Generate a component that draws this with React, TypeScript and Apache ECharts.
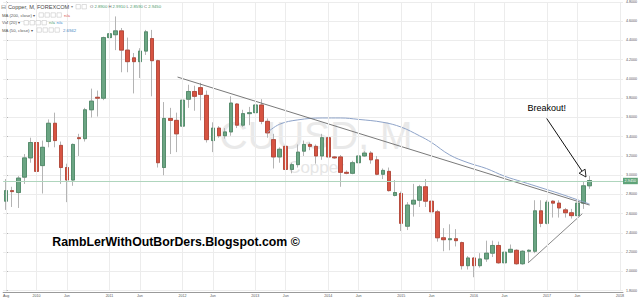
import React, { useEffect, useRef } from 'react';
import * as echarts from 'echarts';

// Monthly candles, Aug 2009 .. Aug 2017
const opens = [2.73, 2.84, 2.82, 2.98, 3.18, 3.34, 3.10, 3.35, 3.54, 3.31, 3.08, 2.95, 3.39, 3.38, 3.68, 3.81, 3.80,
  4.43, 4.46, 4.50, 4.30, 4.22, 4.18, 4.29, 4.42, 4.19, 3.08, 3.59, 3.57,
  3.51, 3.79, 3.87, 3.91, 3.83, 3.36, 3.49, 3.41, 3.45, 3.74, 3.52, 3.64,
  3.65, 3.73, 3.56, 3.37, 3.19, 3.30, 3.06, 3.11, 3.25, 3.32, 3.30, 3.20,
  3.39, 3.19, 3.19, 3.03, 3.02, 3.13, 3.20, 3.23, 3.16, 3.01, 3.04, 2.79,
  2.81, 2.47, 2.70, 2.74, 2.88, 2.73, 2.62, 2.35, 2.33, 2.34, 2.30, 2.06,
  2.14, 2.06, 2.13, 2.19, 2.27, 2.09, 2.20, 2.22, 2.08, 2.21, 2.21, 2.63,
  2.50, 2.73, 2.71, 2.64, 2.61, 2.58, 2.71, 2.89];
const highs = [2.96, 2.88, 2.99, 3.22, 3.39, 3.55, 3.36, 3.58, 3.65, 3.35, 3.12, 3.33, 3.43, 3.70, 3.90, 3.88, 4.44,
  4.56, 4.65, 4.53, 4.43, 4.27, 4.32, 4.51, 4.51, 4.20, 3.76, 3.70, 3.65,
  3.95, 3.94, 3.93, 3.96, 3.88, 3.55, 3.51, 3.49, 3.82, 3.75, 3.68, 3.71,
  3.77, 3.79, 3.59, 3.43, 3.29, 3.32, 3.13, 3.32, 3.36, 3.34, 3.32, 3.43,
  3.42, 3.20, 3.21, 3.05, 3.15, 3.21, 3.25, 3.25, 3.20, 3.07, 3.08, 2.95,
  2.83, 2.72, 2.91, 2.90, 2.96, 2.77, 2.64, 2.45, 2.49, 2.44, 2.31, 2.16,
  2.15, 2.19, 2.32, 2.32, 2.31, 2.24, 2.28, 2.23, 2.22, 2.23, 2.74, 2.74,
  2.74, 2.74, 2.74, 2.66, 2.65, 2.72, 2.93, 2.991];
const lows = [2.64, 2.67, 2.66, 2.91, 3.13, 2.98, 2.81, 3.29, 3.29, 2.91, 2.72, 2.89, 3.20, 3.35, 3.60, 3.61, 3.78,
  4.24, 4.30, 4.07, 4.07, 3.85, 4.01, 4.25, 3.82, 3.08, 3.00, 3.22, 3.24,
  3.38, 3.70, 3.67, 3.57, 3.34, 3.24, 3.39, 3.38, 3.41, 3.49, 3.50, 3.52,
  3.62, 3.53, 3.39, 3.07, 3.13, 2.99, 3.02, 3.08, 3.20, 3.26, 3.12, 3.16,
  3.18, 3.17, 2.88, 3.01, 3.01, 3.01, 3.19, 3.12, 3.00, 2.96, 2.83, 2.78,
  2.42, 2.43, 2.57, 2.67, 2.67, 2.57, 2.31, 2.21, 2.22, 2.26, 2.02, 2.02,
  1.94, 2.04, 2.10, 2.15, 2.08, 2.01, 2.19, 2.07, 2.07, 2.09, 2.19, 2.46,
  2.49, 2.56, 2.56, 2.56, 2.55, 2.57, 2.65, 2.859];
const closes = [2.84, 2.83, 2.97, 3.18, 3.34, 3.04, 3.29, 3.54, 3.36, 3.08, 2.95, 3.32, 3.38, 3.68, 3.77, 3.80, 4.43,
  4.47, 4.50, 4.30, 4.18, 4.18, 4.29, 4.49, 4.19, 3.13, 3.59, 3.57, 3.43,
  3.78, 3.87, 3.82, 3.84, 3.37, 3.49, 3.41, 3.45, 3.75, 3.52, 3.64, 3.65,
  3.73, 3.56, 3.44, 3.19, 3.27, 3.06, 3.11, 3.24, 3.32, 3.30, 3.20, 3.39,
  3.19, 3.18, 3.03, 3.02, 3.13, 3.20, 3.23, 3.16, 3.01, 3.05, 2.84, 2.82,
  2.50, 2.69, 2.74, 2.88, 2.73, 2.62, 2.35, 2.33, 2.34, 2.32, 2.06, 2.14,
  2.06, 2.13, 2.19, 2.27, 2.09, 2.20, 2.23, 2.08, 2.21, 2.22, 2.63, 2.50,
  2.72, 2.71, 2.66, 2.61, 2.58, 2.71, 2.89, 2.945];

// month slots on the axis (Aug 2009 .. Jan 2018)
const slotCount = 102;
const tickIdx = [0, 5, 10, 17, 22, 29, 34, 41, 46, 53, 58, 65, 70, 77, 82, 89, 94, 101];
const tickText = ['Aug', '2010', 'Jun', '2011', 'Jun', '2012', 'Jun', '2013', 'Jun', '2014', 'Jun', '2015', 'Jun', '2016', 'Jun', '2017', 'Jun', '2018'];

// MA(50) curve
const maIdx = [43, 45, 48, 52, 55, 58, 62, 65, 68, 70, 73, 76, 79, 82, 85, 88, 91, 94, 96];
const maVal = [3.445, 3.53, 3.575, 3.595, 3.595, 3.58, 3.55, 3.50, 3.41, 3.34, 3.21, 3.13, 3.07, 2.99, 2.93, 2.87, 2.81, 2.745, 2.70];

// drawn trendlines
const trendIdx = [28.2, 96];
const trendVal = [4.02, 2.69];
const supportIdx = [85.9, 94.8];
const supportVal = [2.09, 2.60];

const lastPrice = 2.945;
const yMin = 1.8;
const yMax = 4.8;
const yStep = 0.2;

const UP = '#6BA583';
const DOWN = '#D75442';
const FONT = 'Liberation Sans, Arial, sans-serif';

export default function App() {
  const ref = useRef<HTMLDivElement>(null);
  useEffect(() => {
    if (!ref.current) return;
    const chart = echarts.init(ref.current, undefined, { renderer: 'svg' });
    const months = Array.from({ length: slotCount }, (_, i) => {
      const m = 7 + i;
      return `${2009 + Math.floor(m / 12)}-${String((m % 12) + 1).padStart(2, '0')}`;
    });
    const labelOf: Record<number, string> = {};
    tickIdx.forEach((t, k) => (labelOf[t] = tickText[k]));

    const wickData = opens.map((o, i) => [o, closes[i], lows[i], highs[i]]);
    const bodyData = opens.map((o, i) => [o, closes[i], Math.min(o, closes[i]), Math.max(o, closes[i])]);

    const txt = (x: number, y: number, text: string, size: number, fill: string, extra: any = {}) => ({
      type: 'text', x, y, z: 100,
      style: { text, fill, fontSize: size, fontFamily: FONT, verticalAlign: 'middle', align: 'left', ...extra },
    });
    const box = (x: number, y: number) => ({
      type: 'rect', z: 100, shape: { x, y: y - 2.2, width: 4.4, height: 4.4 },
      style: { fill: '#fff', stroke: '#c8c8c8', lineWidth: 0.6 },
    });

    // arrow geometry
    const ax1 = 546.7, ay1 = 118.5, ax2 = 586, ay2 = 177;
    const dx = ax2 - ax1, dy = ay2 - ay1;
    const len = Math.sqrt(dx * dx + dy * dy);
    const ux = dx / len, uy = dy / len;
    const hl = 7, hw = 3.6;
    const bx = ax2 - ux * hl, by = ay2 - uy * hl;

    const graphic: any[] = [
      // watermark
      { type: 'text', x: 316, y: 135, z: 0, silent: true,
        style: { text: 'CUUSD, M', fill: '#e9e9e9', fontSize: 39, fontFamily: FONT, align: 'center', verticalAlign: 'middle' } },
      { type: 'text', x: 316, y: 167.5, z: 0, silent: true,
        style: { text: 'Copper', fill: '#e6e6e6', fontSize: 17, fontFamily: FONT, align: 'center', verticalAlign: 'middle' } },
      // header
      txt(1, 6.7, '⊟', 5.5, '#777'),
      txt(8, 6.7, 'Copper, M, FOREXCOM', 5.6, '#4a4a4a'),
      txt(70.5, 6.7, '▾', 4, '#888'),
      box(76, 6.7), box(82, 6.7),
      { type: 'text', x: 90, y: 6.7, z: 100, style: {
        text: '{l|O} {v|2.8900} {l|H} {v|2.9910} {l|L} {v|2.8590} {l|C} {v|2.9450}',
        fontSize: 4.2, fontFamily: FONT, verticalAlign: 'middle',
        rich: { l: { fill: '#666', fontSize: 4.2, fontFamily: FONT }, v: { fill: '#4e9a6c', fontSize: 4.2, fontFamily: FONT } } } },
      txt(2, 15, 'MA (200, close) ▾', 4.3, '#555'),
      box(39, 15), box(45, 15), box(51, 15), box(57, 15),
      txt(64, 15, 'n/a', 4.3, '#d9534f'),
      txt(2, 22.7, 'Vol (20) ▾', 4.3, '#555'),
      box(24, 22.7), box(30, 22.7), box(36, 22.7), box(42, 22.7),
      txt(49, 22.7, 'n/a', 4.3, '#4e9a6c'),
      txt(56.5, 22.7, 'n/a', 4.3, '#3f8fd0'),
      txt(2, 30, 'MA (50, close) ▾', 4.3, '#555'),
      box(37, 30), box(43, 30), box(49, 30), box(55, 30),
      txt(63, 30, '2.6942', 4.3, '#3f7fc0'),
      // blog text
      { type: 'text', x: 176, y: 241.7, z: 100, style: {
        text: 'RambLerWithOutBorDers.Blogspot.com ©', fill: '#000', fontSize: 12.3, fontWeight: 'bold',
        fontFamily: FONT, align: 'center', verticalAlign: 'middle' } },
      // breakout annotation
      { type: 'text', x: 546.7, y: 108.3, z: 100, style: {
        text: 'Breakout!', fill: '#000', fontSize: 9, fontFamily: FONT, align: 'center', verticalAlign: 'middle' } },
      { type: 'line', z: 100, shape: { x1: ax1, y1: ay1, x2: bx, y2: by }, style: { stroke: '#111', lineWidth: 1 } },
      { type: 'polygon', z: 100, shape: { points: [[ax2, ay2], [bx - uy * hw, by + ux * hw], [bx + uy * hw, by - ux * hw]] },
        style: { fill: '#fff', stroke: '#111', lineWidth: 0.9 } },
    ];

    chart.setOption({
      animation: false,
      backgroundColor: '#fff',
      grid: { left: -1, right: 16, top: 0.6, bottom: 9.3, containLabel: false },
      xAxis: [
        {
          type: 'category', data: months, boundaryGap: true, offset: 2,
          axisLine: { show: true, lineStyle: { color: '#9a9a9a', width: 1 } },
          axisTick: { show: false },
          axisLabel: {
            interval: (idx: number) => labelOf[idx] !== undefined,
            formatter: (_v: string, idx: number) => labelOf[idx] ?? '',
            fontSize: 3.6, color: '#555', margin: 1.5, fontFamily: FONT,
          },
          splitLine: { show: false },
        },
        { type: 'value', min: -0.5, max: slotCount - 0.5, show: false },
      ],
      yAxis: {
        type: 'value', position: 'right', min: yMin, max: yMax, interval: yStep, scale: true,
        axisLine: { show: true, lineStyle: { color: '#9a9a9a', width: 1 } },
        axisTick: { show: true, length: 1.5, lineStyle: { color: '#9a9a9a' } },
        axisLabel: { fontSize: 3.6, color: '#555', margin: 3, fontFamily: FONT, formatter: (v: number) => v.toFixed(4) },
        splitLine: { show: true, lineStyle: { color: '#ececec', width: 1 } },
      },
      graphic,
      series: [
        {
          type: 'line', xAxisIndex: 0, yAxisIndex: 0, data: [], z: 1, silent: true,
          markLine: {
            silent: true, symbol: ['none', 'none'], animation: false,
            label: { show: false },
            lineStyle: { color: '#ececec', width: 1, type: 'solid' },
            data: [
              ...tickIdx.map((t) => ({ xAxis: months[t] })),
              {
                yAxis: lastPrice,
                lineStyle: { color: '#afd5bd', width: 1, type: 'solid' },
                label: {
                  show: true, position: 'end', distance: 0, formatter: lastPrice.toFixed(4),
                  backgroundColor: '#5fa479', color: '#fff', fontSize: 3.8, padding: [1.2, 1.6], fontFamily: FONT,
                },
              },
            ],
          },
        },
        {
          type: 'candlestick', xAxisIndex: 0, yAxisIndex: 0, data: wickData, barWidth: 4, z: 2, silent: true,
          itemStyle: { color: '#b4b4b4', color0: '#b4b4b4', borderColor: '#b4b4b4', borderColor0: '#b4b4b4', borderWidth: 1 },
        },
        {
          type: 'candlestick', xAxisIndex: 0, yAxisIndex: 0, data: bodyData, barWidth: 4, z: 3, silent: true,
          itemStyle: { color: UP, color0: DOWN, borderColor: '#4a8763', borderColor0: '#b23f30', borderWidth: 0.8 },
        },
        {
          type: 'line', xAxisIndex: 1, yAxisIndex: 0, z: 4, silent: true, smooth: 0.4, showSymbol: false,
          data: maIdx.map((x, k) => [x, maVal[k]]),
          lineStyle: { color: '#8ea3c8', width: 1 },
        },
        {
          type: 'line', xAxisIndex: 1, yAxisIndex: 0, z: 4, silent: true, showSymbol: false,
          data: trendIdx.map((x, k) => [x, trendVal[k]]),
          lineStyle: { color: '#6a6a6a', width: 0.9 },
        },
        {
          type: 'line', xAxisIndex: 1, yAxisIndex: 0, z: 4, silent: true, showSymbol: false,
          data: supportIdx.map((x, k) => [x, supportVal[k]]),
          lineStyle: { color: '#7a7a7a', width: 0.9 },
        },
      ],
    });
    return () => chart.dispose();
  }, []);
  return <div ref={ref} style={{ position: 'fixed', left: 0, top: 0, width: 640, height: 300, background: '#fff' }} />;
}
